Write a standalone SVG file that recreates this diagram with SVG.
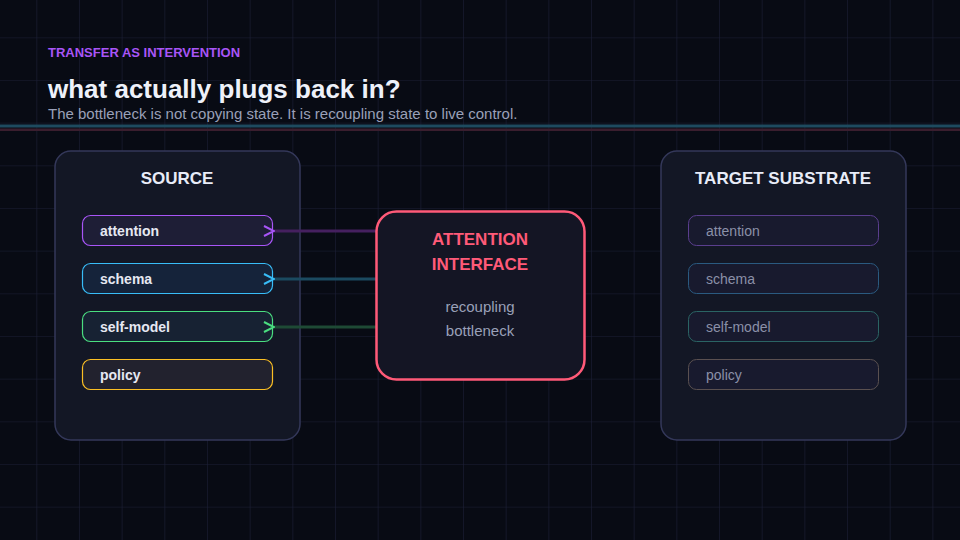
<svg xmlns="http://www.w3.org/2000/svg" width="960" height="540" viewBox="0 0 960 540">
<defs>
<pattern id="grid" x="36.3" y="37.3" width="42.67" height="42.67" patternUnits="userSpaceOnUse">
<path d="M0 0H42.67M0 0V42.67" fill="none" stroke="#1c1f36" stroke-width="1.2"/>
</pattern>
<marker id="ap" viewBox="0 0 12 12" refX="1" refY="6" markerWidth="12" markerHeight="12" markerUnits="userSpaceOnUse" orient="auto"><path d="M11 1L1 6L11 11" fill="none" stroke="#a855f7" stroke-width="2"/></marker>
<marker id="ac" viewBox="0 0 12 12" refX="1" refY="6" markerWidth="12" markerHeight="12" markerUnits="userSpaceOnUse" orient="auto"><path d="M11 1L1 6L11 11" fill="none" stroke="#38bdf8" stroke-width="2"/></marker>
<marker id="ag" viewBox="0 0 12 12" refX="1" refY="6" markerWidth="12" markerHeight="12" markerUnits="userSpaceOnUse" orient="auto"><path d="M11 1L1 6L11 11" fill="none" stroke="#4ade80" stroke-width="2"/></marker>
</defs>
<style>
text{font-family:"Liberation Sans",Arial,sans-serif}
.card{fill:#131725;stroke:#34385a;stroke-width:1.5}
.h{fill:#e8ecf8;font-size:17px;font-weight:bold;text-anchor:middle}
.pl{font-size:14px;font-weight:bold;fill:#e6e8f2}
.pr{font-size:14px;fill:#8b90a8}
</style>
<rect width="960" height="540" fill="#080b14"/>
<rect width="960" height="540" fill="url(#grid)"/>
<rect x="0" y="124.5" width="960" height="3" fill="#1e4a5f"/>
<rect x="0" y="128.5" width="960" height="2.5" fill="#3a1e2e"/>
<text x="48" y="57" font-size="13" font-weight="bold" fill="#a855f7">TRANSFER AS INTERVENTION</text>
<text x="48" y="98" font-size="26" font-weight="bold" fill="#eef1fa">what actually plugs back in?</text>
<text x="48" y="119" font-size="15" fill="#9aa0b8">The bottleneck is not copying state. It is recoupling state to live control.</text>
<g id="source">
<rect class="card" x="55" y="151" width="245" height="289" rx="16"/>
<text class="h" x="177" y="184">SOURCE</text>
<rect x="82.5" y="215.5" width="190" height="30" rx="8" fill="#1e1e36" stroke="#a855f7" stroke-width="1.2"/>
<text class="pl" x="100" y="236">attention</text>
<rect x="82.5" y="263.5" width="190" height="30" rx="8" fill="#15233a" stroke="#38bdf8" stroke-width="1.2"/>
<text class="pl" x="100" y="284">schema</text>
<rect x="82.5" y="311.5" width="190" height="30" rx="8" fill="#172233" stroke="#4ade80" stroke-width="1.2"/>
<text class="pl" x="100" y="332">self-model</text>
<rect x="82.5" y="359.5" width="190" height="30" rx="8" fill="#22222e" stroke="#fbbf24" stroke-width="1.2"/>
<text class="pl" x="100" y="380">policy</text>
</g>
<g id="connectors">
<line x1="376" y1="231" x2="274" y2="231" stroke="#45205f" stroke-width="3" marker-end="url(#ap)"/>
<line x1="376" y1="279" x2="274" y2="279" stroke="#1b4a60" stroke-width="3" marker-end="url(#ac)"/>
<line x1="376" y1="327" x2="274" y2="327" stroke="#1e4a35" stroke-width="3" marker-end="url(#ag)"/>
</g>
<g id="interface">
<rect x="376.5" y="211.5" width="208" height="168" rx="20" fill="#141524" stroke="#ff5a78" stroke-width="2.5"/>
<text x="480" y="245" font-size="17" font-weight="bold" fill="#ff5a78" text-anchor="middle">ATTENTION</text>
<text x="480" y="270" font-size="17" font-weight="bold" fill="#ff5a78" text-anchor="middle">INTERFACE</text>
<text x="480" y="312" font-size="15" fill="#9aa0b8" text-anchor="middle">recoupling</text>
<text x="480" y="336" font-size="15" fill="#9aa0b8" text-anchor="middle">bottleneck</text>
</g>
<g id="target">
<rect class="card" x="661" y="151" width="245" height="289" rx="16"/>
<text class="h" x="783" y="184">TARGET SUBSTRATE</text>
<rect x="688.5" y="215.5" width="190" height="30" rx="8" fill="#181a2e" stroke="#5a3e8e" stroke-width="1"/>
<text class="pr" x="706" y="236">attention</text>
<rect x="688.5" y="263.5" width="190" height="30" rx="8" fill="#181a2e" stroke="#2a5a80" stroke-width="1"/>
<text class="pr" x="706" y="284">schema</text>
<rect x="688.5" y="311.5" width="190" height="30" rx="8" fill="#181a2e" stroke="#2a6464" stroke-width="1"/>
<text class="pr" x="706" y="332">self-model</text>
<rect x="688.5" y="359.5" width="190" height="30" rx="8" fill="#181a2e" stroke="#5a5050" stroke-width="1"/>
<text class="pr" x="706" y="380">policy</text>
</g>
</svg>
